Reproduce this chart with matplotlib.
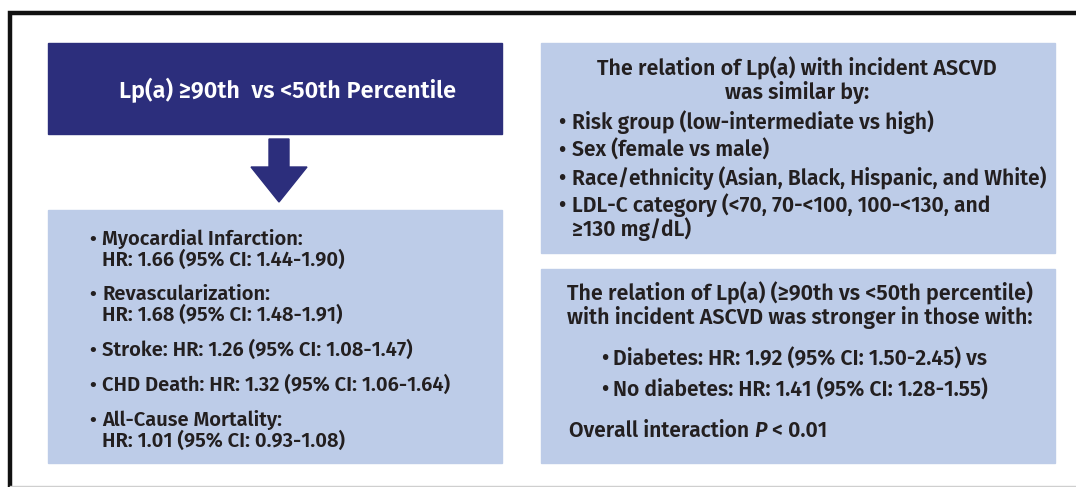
import matplotlib.pyplot as plt
from matplotlib.patches import Rectangle, Polygon

plt.rcParams['font.family'] = ['Fira Sans', 'DejaVu Sans']

navy = '#2c2e7c'
pale = '#bdcce8'
ink = '#231f20'

# --- content ---
header = 'Lp(a) \u226590th  vs <50th Percentile'

outcomes = ['Myocardial Infarction:', 'Revascularization:', 'Stroke:',
            'CHD Death:', 'All-Cause Mortality:']
hr = [1.66, 1.68, 1.26, 1.32, 1.01]
ci_lo = [1.44, 1.48, 1.08, 1.06, 0.93]
ci_hi = [1.90, 1.91, 1.47, 1.64, 1.08]
wrapped = [True, True, False, False, True]

similar_title = ['The relation of Lp(a) with incident ASCVD', 'was similar by:']
similar_items = ['Risk group (low-intermediate vs high)',
                 'Sex (female vs male)',
                 'Race/ethnicity (Asian, Black, Hispanic, and White)',
                 'LDL-C category (<70, 70-<100, 100-<130, and\n\u2265130 mg/dL)']

stronger_title = ['The relation of Lp(a) (\u226590th vs <50th percentile)',
                  'with incident ASCVD was stronger in those with:']
groups = ['Diabetes', 'No diabetes']
grp_hr = [1.92, 1.41]
grp_lo = [1.50, 1.28]
grp_hi = [2.45, 1.55]
p_interaction = '0.01'

W, H = 1076, 487
fig = plt.figure(figsize=(W / 100, H / 100), dpi=100)
ax = fig.add_axes([0, 0, 1, 1])
ax.set_xlim(0, W)
ax.set_ylim(H, 0)
ax.axis('off')


def put(x, y, s, fs, ha='left', color=ink, **kw):
    # y is the visual middle of the capitals
    return ax.text(x, y + 0.345 * fs * 100 / 72, s, fontsize=fs, color=color,
                   fontweight='semibold', ha=ha, va='baseline', **kw)


fs_left = 14.5
fs_right = 15.2
fs_title = 15.5

# outer frame
ax.plot([9.5, 9.5, W], [H, 13, 13], color='#111111', lw=3.2, solid_joinstyle='miter')
ax.plot([10, W], [485.5, 485.5], color='#cfcfcf', lw=1)

# boxes
ax.add_patch(Rectangle((48, 43), 454, 91, color=navy))
ax.add_patch(Rectangle((48, 210), 454, 253, color=pale))
ax.add_patch(Rectangle((541, 43), 514, 210, color=pale))
ax.add_patch(Rectangle((541, 269), 514, 194, color=pale))

# header
put(288, 90, header, 16.9, ha='center', color='white')

# down arrow
ax.add_patch(Polygon([(269, 139), (289, 139), (289, 167), (307, 167),
                      (279, 202), (251, 167), (269, 167)], color=navy))

# left box: outcomes
y = 238
for name, h, lo, hi, wr in zip(outcomes, hr, ci_lo, ci_hi, wrapped):
    stat = f'HR: {h:.2f} (95% CI: {lo:.2f}-{hi:.2f})'
    put(89, y, '\u2022', fs_left)
    if wr:
        put(102, y, name, fs_left)
        y += 20.5
        put(102, y, stat, fs_left)
    else:
        put(102, y, f'{name} {stat}', fs_left)
    y += 35

# right top box
for i, line in enumerate(similar_title):
    put(797, 68 + 24 * i, line, fs_title, ha='center')
y = 122
for item in similar_items:
    put(558, y, '\u2022', fs_right)
    for j, part in enumerate(item.split('\n')):
        put(572, y + 24 * j, part, fs_right)
    y += 27.7

# right bottom box
for i, line in enumerate(stronger_title):
    put(800, 293 + 23.5 * i, line, fs_title, ha='center')
for i, (g, h, lo, hi) in enumerate(zip(groups, grp_hr, grp_lo, grp_hi)):
    tail = ' vs' if i == 0 else ''
    yy = 358 + 31 * i
    put(601, yy, '\u2022', fs_right)
    put(613, yy, f'{g}: HR: {h:.2f} (95% CI: {lo:.2f}-{hi:.2f}){tail}', fs_right)
t1 = put(569, 430, 'Overall interaction ', fs_right)
t2 = ax.annotate('P', xy=(1, 0), xycoords=t1, ha='left', va='bottom', color=ink,
                 fontsize=fs_right, fontweight='semibold', fontstyle='italic')
ax.annotate(f' < {p_interaction}', xy=(1, 0), xycoords=t2, ha='left', va='bottom',
            color=ink, fontsize=fs_right, fontweight='semibold')

fig.savefig('out.png', dpi=100, facecolor='white')
